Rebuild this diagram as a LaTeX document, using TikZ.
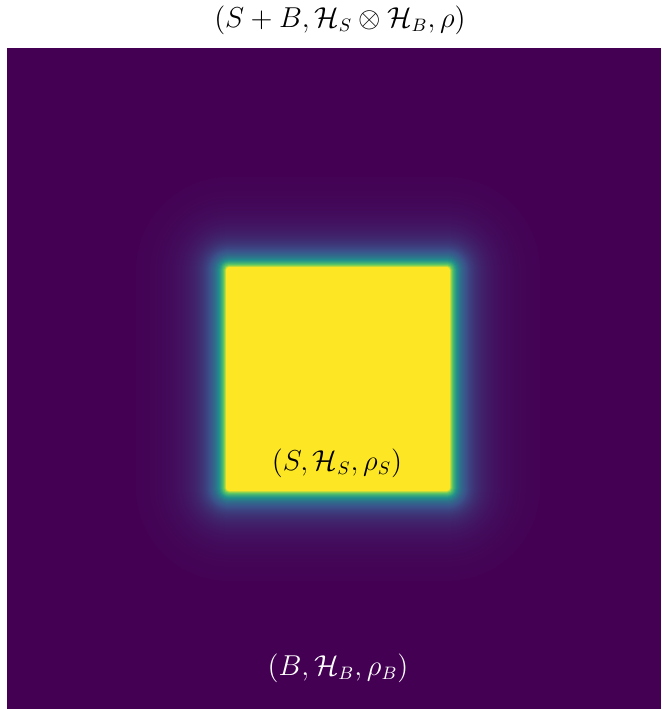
\documentclass[tikz,border=0pt]{standalone}
\usepackage{amsmath}
\usepackage{xcolor}
\usepackage{tikz}
% viridis stops
\definecolor{virA}{HTML}{440154}
\definecolor{virB}{HTML}{3B528B}
\definecolor{virC}{HTML}{21918C}
\definecolor{virD}{HTML}{5EC962}
\definecolor{virE}{HTML}{FDE725}
% colour of a value between 0 and 1
\newcommand{\setvir}[1]{%
  \pgfmathsetmacro\vval{#1}%
  \ifdim\vval pt<0.25pt
    \pgfmathsetmacro\vp{\vval/0.25*100}\colorlet{layer}{virB!\vp!virA}%
  \else\ifdim\vval pt<0.5pt
    \pgfmathsetmacro\vp{(\vval-0.25)/0.25*100}\colorlet{layer}{virC!\vp!virB}%
  \else\ifdim\vval pt<0.75pt
    \pgfmathsetmacro\vp{(\vval-0.5)/0.25*100}\colorlet{layer}{virD!\vp!virC}%
  \else
    \pgfmathsetmacro\vp{(\vval-0.75)/0.25*100}\colorlet{layer}{virE!\vp!virD}%
  \fi\fi\fi}

\begin{document}
\begin{tikzpicture}[x=0.5pt, y=-0.5pt,
    lbl/.style={font=\fontsize{13.4}{16}\selectfont, inner sep=0pt}
  ]
  \useasboundingbox (0,0) rectangle (661,709);
  % bath
  \fill[virA] (7,48) rectangle (661,709);
  % blurred edge round the system
  \foreach \d in {90,89,...,1}{
    \pgfmathsetmacro\vexp{0.5*exp(-\d/6)+0.5*exp(-\d/20)}
    \setvir{\vexp}
    \pgfmathsetmacro\rr{(3+\d)*0.5}
    \fill[layer, rounded corners=\rr pt] (226-\d,267-\d) rectangle (450+\d,491+\d);
  }
  % system
  \fill[virE, rounded corners=1.5pt] (226,267) rectangle (450,491);

  \node[lbl] (whole) at (340,20) {$(S+B,\mathcal{H}_S\otimes\mathcal{H}_B,\rho)$};
  \node[lbl] (sys) at (337,463) {$(S,\mathcal{H}_S,\rho_S)$};
  \node[lbl, text=white] (bath) at (338,668) {$(B,\mathcal{H}_B,\rho_B)$};
\end{tikzpicture}
\end{document}
